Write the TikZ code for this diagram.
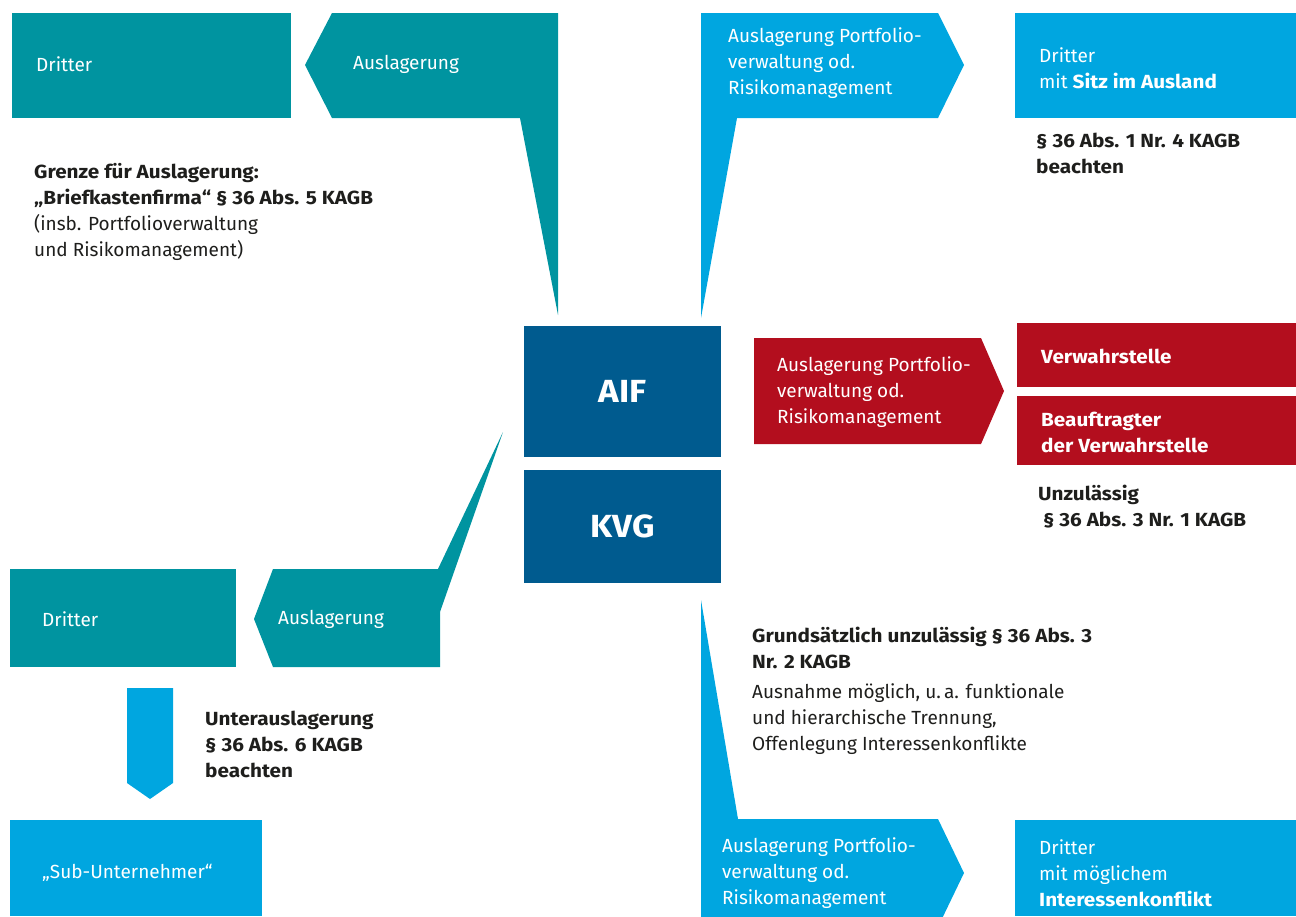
\documentclass[tikz,border=0pt]{standalone}
\usepackage{fontspec}
\setmainfont{Fira Sans}[BoldFeatures={FakeStretch=1.09}]
\definecolor{cteal}{HTML}{0094A0}
\definecolor{cblue}{HTML}{00A6E0}
\definecolor{cdark}{HTML}{005B8F}
\definecolor{cred}{HTML}{B30E1E}
\definecolor{ctext}{HTML}{1E1E1C}
\tikzset{
  txt/.style={anchor=west, align=left, inner sep=0pt, font=\fontsize{19}{26}\selectfont},
  wtxt/.style={txt, text=white},
  dtxt/.style={txt, text=ctext},
  bigbox/.style={fill=cdark, text=white, inner sep=0pt, font=\fontsize{32}{36}\selectfont\bfseries},
}
\begin{document}
\begin{tikzpicture}[x=1pt,y=-1pt]
\useasboundingbox (0,0) rectangle (1296,916);
\clip (0,0) rectangle (1296,916);
% top-left
\fill[cteal] (12,13) rectangle (291,118);
\fill[cteal] (305,65) -- (332,13) -- (558,13) -- (558,315) -- (520,118) -- (332,118) -- cycle;
\node[wtxt] (d1) at (36,64) {Dritter};
\node[wtxt] (a1) at (353,64) {Auslagerung};
\node[dtxt] (g1) at (34,212) {\textbf{Grenze für Auslagerung:}\\\textbf{„Briefkastenfirma“ § 36 Abs. 5 KAGB}\\(insb. Portfolioverwaltung\\und Risikomanagement)};
% top-right
\fill[cblue] (701,13) -- (938,13) -- (964,65) -- (938,118) -- (737,118) -- (701,318) -- cycle;
\fill[cblue] (1015,13) rectangle (1296,118);
\node[wtxt] (a2) at (728,63) {Auslagerung Portfolio-\\verwaltung od.\\Risikomanagement};
\node[wtxt] (d2) at (1039,68) {Dritter\\mit \textbf{Sitz im Ausland}};
\node[dtxt] (n2) at (1036,153) {\textbf{§ 36 Abs. 1 Nr. 4 KAGB}\\\textbf{beachten}};
% center
\node[bigbox, minimum width=197, minimum height=131, anchor=north west] (aif) at (524,326) {AIF};
\node[bigbox, minimum width=197, minimum height=113, anchor=north west] (kvg) at (524,470) {KVG};
% red
\fill[cred] (754,338) -- (981,338) -- (1004,391) -- (981,444) -- (754,444) -- cycle;
\node[wtxt] (a3) at (777,392) {Auslagerung Portfolio-\\verwaltung od.\\Risikomanagement};
\fill[cred] (1017,323) rectangle (1296,387);
\fill[cred] (1017,396) rectangle (1296,465);
\node[wtxt] (v1) at (1041,356) {\textbf{Verwahrstelle}};
\node[wtxt] (v2) at (1041,432) {\textbf{Beauftragter}\\\textbf{der Verwahrstelle}};
\node[dtxt] (u1) at (1038,507) {\textbf{Unzulässig}\\\textbf{\ § 36 Abs. 3 Nr. 1 KAGB}};
% bottom-left
\fill[cteal] (10,569) rectangle (236,667);
\fill[cteal] (254,619) -- (273,569) -- (438,569) -- (503,432) -- (440,612) -- (440,667) -- (273,667) -- cycle;
\node[wtxt] (d4) at (42,619) {Dritter};
\node[wtxt] (a4) at (278,619) {Auslagerung};
\fill[cblue] (127,688) -- (173,688) -- (173,783) -- (150,799) -- (127,783) -- cycle;
\node[dtxt] (ua) at (205,744) {\textbf{Unterauslagerung}\\\textbf{§ 36 Abs. 6 KAGB}\\\textbf{beachten}};
\fill[cblue] (10,820) rectangle (262,916);
\node[wtxt] (su) at (42,873) {„Sub-Unternehmer“};
% bottom-right
\fill[cblue] (701,600) -- (738,819) -- (938,819) -- (964,873) -- (938,927) -- (701,927) -- cycle;
\node[wtxt] (a5) at (722,873) {Auslagerung Portfolio-\\verwaltung od.\\Risikomanagement};
\fill[cblue] (1015,820) rectangle (1296,916);
\node[wtxt] (d5) at (1039,873) {Dritter\\mit möglichem\\\textbf{Interessenkonflikt}};
\node[dtxt] (gz) at (752,648) {\textbf{Grundsätzlich unzulässig § 36 Abs. 3}\\\textbf{Nr. 2 KAGB}};
\node[dtxt] (au) at (752,719) {Ausnahme möglich, u.\,a. funktionale\\und hierarchische Trennung,\\Offenlegung Interessenkonflikte};
\end{tikzpicture}
\end{document}
